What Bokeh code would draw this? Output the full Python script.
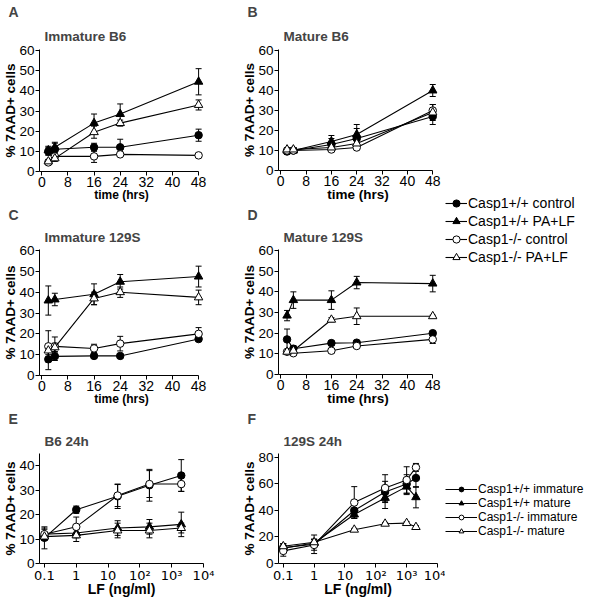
from bokeh.plotting import figure
from bokeh.models import (Range1d, Title, Whisker, TeeHead, ColumnDataSource, FixedTicker,
                          Legend, LegendItem, Spacer, BasicTickFormatter)
from bokeh.layouts import row, column
from bokeh.embed import file_html
from bokeh.resources import INLINE

FONT = "Liberation Sans"

# ---------------- data ----------------
hours = [2, 4, 16, 24, 48]
time_ticks = [0, 8, 16, 24, 32, 40, 48]
pct_ticks_60 = [0, 10, 20, 30, 40, 50, 60]
lf_dose_e = [0.1, 1, 20, 200, 2000]
lf_dose_f = [0.1, 1, 20, 200, 1000, 2000]
lf_ticks = [0.1, 1, 10, 100, 1000, 10000]
lf_tick_labels = ["0.1", "1", "10", "10²", "10³", "10⁴"]
pct_ticks_e = [0, 10, 20, 30, 40]
pct_ticks_f = [0, 20, 40, 60, 80]

series_time = ["Casp1+/+ control", "Casp1+/+ PA+LF", "Casp1-/- control", "Casp1-/- PA+LF"]
series_dose = ["Casp1+/+ immature", "Casp1+/+ mature", "Casp1-/- immature", "Casp1-/- mature"]

# A: Immature B6
a_wt_ctrl = [10, 11, 12, 12, 18]
a_wt_ctrl_err = [2, 3, 2, 4, 3]
a_wt_palf = [10.5, 12, 24, 28.5, 44.5]
a_wt_palf_err = [2, 2.5, 4.5, 5, 6.5]
a_ko_ctrl = [4.5, 7.5, 7.5, 8.5, 8]
a_ko_ctrl_err = [1, 1, 3, 1, 0.8]
a_ko_palf = [5, 6.5, 19.5, 24, 33]
a_ko_palf_err = [1, 1.5, 3, 1.5, 2.5]

# B: Mature B6
b_wt_ctrl = [9.5, 10, 13, 16, 27]
b_wt_ctrl_err = [1.5, 1.5, 3, 5, 4]
b_wt_palf = [10, 10, 14.5, 18, 40]
b_wt_palf_err = [1.5, 1, 3, 5, 3]
b_ko_ctrl = [10, 10, 10.5, 11.5, 30]
b_ko_ctrl_err = [1, 1, 1, 1, 3]
b_ko_palf = [10.5, 10.5, 11.5, 13.5, 29]
b_ko_palf_err = [1, 1, 1, 1.5, 4]

# C: Immature 129S
c_wt_ctrl = [7.8, 9.2, 9.4, 9.4, 17.5]
c_wt_ctrl_err = [5, 2, 1, 1, 1]
c_wt_palf = [36, 36.5, 39, 45, 47.5]
c_wt_palf_err = [7, 3, 5, 3.5, 5]
c_ko_ctrl = [14, 14, 13, 15.3, 20]
c_ko_ctrl_err = [7.5, 4.5, 2, 3.5, 3]
c_ko_palf = [12, 13.5, 37, 40, 37.5]
c_ko_palf_err = [2, 2, 3, 2.5, 3.5]

# D: Mature 129S
d_wt_ctrl = [17, 12.5, 15.2, 15.4, 20]
d_wt_ctrl_err = [5, 1.5, 1, 1, 1]
d_wt_palf = [28.5, 36, 36, 44.5, 44]
d_wt_palf_err = [2.5, 4, 4.5, 3, 4]
d_ko_ctrl = [11, 10.3, 11.5, 13.8, 17]
d_ko_ctrl_err = [1, 1, 1, 1, 2]
d_ko_palf = [11, 11.5, 26.5, 28.2, 28.2]
d_ko_palf_err = [1, 1, 1, 4, 0.5]

# E: B6 24h
e_wt_imm = [10.5, 22, 27.5, 32, 36]
e_wt_imm_err = [4.5, 1.5, 5, 6.5, 6.5]
e_wt_mat = [12, 12.5, 14.5, 15, 16]
e_wt_mat_err = [2.5, 2, 3, 3, 5]
e_ko_imm = [12, 15, 27.8, 32.5, 32.5]
e_ko_imm_err = [2, 4, 4.5, 5.5, 3]
e_ko_mat = [11, 11.5, 13.5, 13.5, 14.5]
e_ko_mat_err = [1.5, 2.5, 3, 3, 2]

# F: 129S 24h
f_wt_imm = [12, 14.5, 40, 54, 60, 64.5]
f_wt_imm_err = [3, 7, 5, 8, 7, 7]
f_wt_mat = [11.5, 15.5, 37, 49.5, 58, 50]
f_wt_mat_err = [2, 3, 3, 8, 6, 8]
f_ko_imm = [9.5, 14, 46, 57, 63, 72.5]
f_ko_imm_err = [4, 4, 12, 10, 10, 3]
f_ko_mat = [13, 16, 25.5, 30, 30.5, 27.5]
f_ko_mat_err = [2, 2, 1, 1, 1, 1]

# ---------------- styling ----------------
STYLES = [("circle", "black"), ("triangle", "black"), ("circle", "white"), ("triangle", "white")]
MSIZE = {"circle": 7.5, "triangle": 8.5}


def panel(letter, title, xs, ys_list, errs_list, x_range, y_range, x_ticks, y_ticks,
          xlabel, width, height, borders, log=False, x_bounds=None,
          title_offset=5, letter_offset=-31, xlabel_size="12px",
          letter_standoff=1, title_standoff=9, xlabel_standoff=-2, xtick_standoff=1):
    left, right, top, bottom = borders
    p = figure(width=width, height=height, toolbar_location=None, output_backend="svg",
               x_range=Range1d(*x_range), y_range=Range1d(*y_range),
               x_axis_type="log" if log else "linear",
               min_border_left=left, min_border_right=right,
               min_border_top=top, min_border_bottom=bottom,
               outline_line_color=None)
    p.grid.visible = False
    # panel letter (outermost) and panel title (next to the frame)
    p.title.text = letter
    p.title.text_font = FONT
    p.title.text_font_size = "14px"
    p.title.text_font_style = "bold"
    p.title.align = "left"
    p.title.offset = letter_offset
    p.title.standoff = letter_standoff
    p.add_layout(Title(text=title, text_font=FONT, text_font_size="13.5px",
                       text_font_style="bold", align="left", offset=title_offset,
                       standoff=title_standoff), "above")

    for ax in (p.xaxis[0], p.yaxis[0]):
        ax.axis_line_color = "black"
        ax.axis_line_width = 1
        ax.major_tick_line_color = "black"
        ax.major_tick_out = 4
        ax.major_tick_in = 0
        ax.minor_tick_line_color = None
        ax.major_label_text_font = FONT
        ax.major_label_text_color = "black"
        ax.major_label_text_line_height = 1.0
        ax.axis_label_text_font = FONT
        ax.axis_label_text_font_style = "bold"
        ax.axis_label_text_color = "black"
        ax.axis_label_text_line_height = 1.0
        ax.major_label_standoff = 1
        ax.axis_label_standoff = -2
    p.xaxis.axis_label_standoff = xlabel_standoff
    p.xaxis.major_label_standoff = xtick_standoff
    p.xaxis.major_label_text_font_size = "14px"
    p.yaxis.major_label_text_font_size = "13.5px"
    p.xaxis.axis_label_text_font_size = xlabel_size
    p.yaxis.axis_label_text_font_size = "13.5px"
    p.xaxis.axis_label = xlabel
    p.yaxis.axis_label = "% 7AAD+ cells"
    p.xaxis.ticker = FixedTicker(ticks=x_ticks)
    p.yaxis.ticker = FixedTicker(ticks=y_ticks)
    if log:
        p.xaxis.formatter = BasicTickFormatter()
        p.xaxis.major_label_overrides = {t: s for t, s in zip(lf_ticks, lf_tick_labels)}
        p.xaxis.major_label_text_font = "DejaVu Sans"
        p.xaxis.major_label_text_font_size = "13px"
    if x_bounds is not None:
        p.xaxis.bounds = x_bounds

    for ys, errs, (m, fc) in zip(ys_list, errs_list, STYLES):
        src = ColumnDataSource(dict(x=xs, y=ys,
                                    upper=[y + e for y, e in zip(ys, errs)],
                                    lower=[y - e for y, e in zip(ys, errs)]))
        p.add_layout(Whisker(source=src, base="x", upper="upper", lower="lower",
                             line_color="black", line_width=1,
                             upper_head=TeeHead(size=6, line_color="black", line_width=1),
                             lower_head=TeeHead(size=6, line_color="black", line_width=1)))
        p.line("x", "y", source=src, line_color="black", line_width=1.1)
        p.scatter("x", "y", source=src, marker=m, size=MSIZE[m], fill_color=fc,
                  line_color="black", line_width=1)
    return p


def legend_fig(labels, xs, ys_list, width, height, font_size, glyph_w, row_h, pad):
    # the key's renderers hold real series but sit outside this tiny frame's ranges
    p = figure(width=width, height=height, toolbar_location=None, output_backend="svg",
               x_axis_type=None, y_axis_type=None, min_border=0, outline_line_color=None,
               x_range=Range1d(-2, -1), y_range=Range1d(-2, -1))
    items = []
    for lab, ys, (m, fc) in zip(labels, ys_list, STYLES):
        r1 = p.line(x=xs, y=ys, line_color="black", line_width=1.1)
        r2 = p.scatter(x=xs, y=ys, marker=m, size=MSIZE[m], fill_color=fc,
                       line_color="black", line_width=1)
        items.append(LegendItem(label=lab, renderers=[r1, r2]))
    leg = Legend(items=items, location="top_left", margin=0, padding=pad,
                 spacing=0, glyph_width=glyph_w, glyph_height=row_h,
                 label_height=row_h, label_standoff=1,
                 label_text_font=FONT, label_text_font_size=font_size,
                 label_text_line_height=1.0,
                 label_text_color="black",
                 border_line_color=None, background_fill_alpha=0)
    p.add_layout(leg, "center")
    return p


W1, W2, W3 = 239, 206, 141
H1, H2, H3 = 204, 204, 191

time_range = (-0.7, 49.5)
pa = panel("A", "Immature B6", hours,
           [a_wt_ctrl, a_wt_palf, a_ko_ctrl, a_ko_palf],
           [a_wt_ctrl_err, a_wt_palf_err, a_ko_ctrl_err, a_ko_palf_err],
           time_range, (0, 60.5), time_ticks, pct_ticks_60, "time (hrs)",
           W1, H1, (27, 36, 40, 20), x_bounds=(-0.7, 48),
           letter_standoff=2, title_standoff=12)
pb = panel("B", "Mature B6", hours,
           [b_wt_ctrl, b_wt_palf, b_ko_ctrl, b_ko_palf],
           [b_wt_ctrl_err, b_wt_palf_err, b_ko_ctrl_err, b_ko_palf_err],
           time_range, (0, 60.5), time_ticks, pct_ticks_60, "time (hrs)",
           W2, H1, (36, 4, 40, 20), x_bounds=(-0.7, 48), xlabel_size="13.5px",
           letter_standoff=2, title_standoff=12)
pc = panel("C", "Immature 129S", hours,
           [c_wt_ctrl, c_wt_palf, c_ko_ctrl, c_ko_palf],
           [c_wt_ctrl_err, c_wt_palf_err, c_ko_ctrl_err, c_ko_palf_err],
           time_range, (0, 60.5), time_ticks, pct_ticks_60, "time (hrs)",
           W1, H2, (27, 36, 41, 20), x_bounds=(-0.7, 48))
pd_ = panel("D", "Mature 129S", hours,
            [d_wt_ctrl, d_wt_palf, d_ko_ctrl, d_ko_palf],
            [d_wt_ctrl_err, d_wt_palf_err, d_ko_ctrl_err, d_ko_palf_err],
            time_range, (0, 60.5), time_ticks, pct_ticks_60, "time (hrs)",
            W2, H2, (36, 4, 41, 20), x_bounds=(-0.7, 48), xlabel_size="13.5px")
pe = panel("E", "B6 24h", lf_dose_e,
           [e_wt_imm, e_wt_mat, e_ko_imm, e_ko_mat],
           [e_wt_imm_err, e_wt_mat_err, e_ko_imm_err, e_ko_mat_err],
           (0.07, 10000), (0, 45), lf_ticks, pct_ticks_e, "LF (ng/ml)",
           W1, H3, (27, 36, 36, 20), log=True, xlabel_size="14px",
           xlabel_standoff=-5, xtick_standoff=0)
pf = panel("F", "129S 24h", lf_dose_f,
           [f_wt_imm, f_wt_mat, f_ko_imm, f_ko_mat],
           [f_wt_imm_err, f_wt_mat_err, f_ko_imm_err, f_ko_mat_err],
           (0.07, 10000), (0, 83), lf_ticks, pct_ticks_f, "LF (ng/ml)",
           W2, H3, (36, 8, 36, 20), log=True, xlabel_size="14px",
           xlabel_standoff=-5, xtick_standoff=0)

leg1 = legend_fig(series_time, hours, [a_wt_ctrl, a_wt_palf, a_ko_ctrl, a_ko_palf],
                  W3, 78, "14px", 22, 18, 3)
leg2 = legend_fig(series_dose, lf_dose_e, [e_wt_imm, e_wt_mat, e_ko_imm, e_ko_mat],
                  W3, 60, "12px", 32, 12, 1)

col3 = column(Spacer(width=W3, height=194), leg1, Spacer(width=W3, height=210), leg2)
layout = row(column(pa, pc, pe), column(pb, pd_, pf), col3)

open("out.html", "w").write(file_html(layout, INLINE))
